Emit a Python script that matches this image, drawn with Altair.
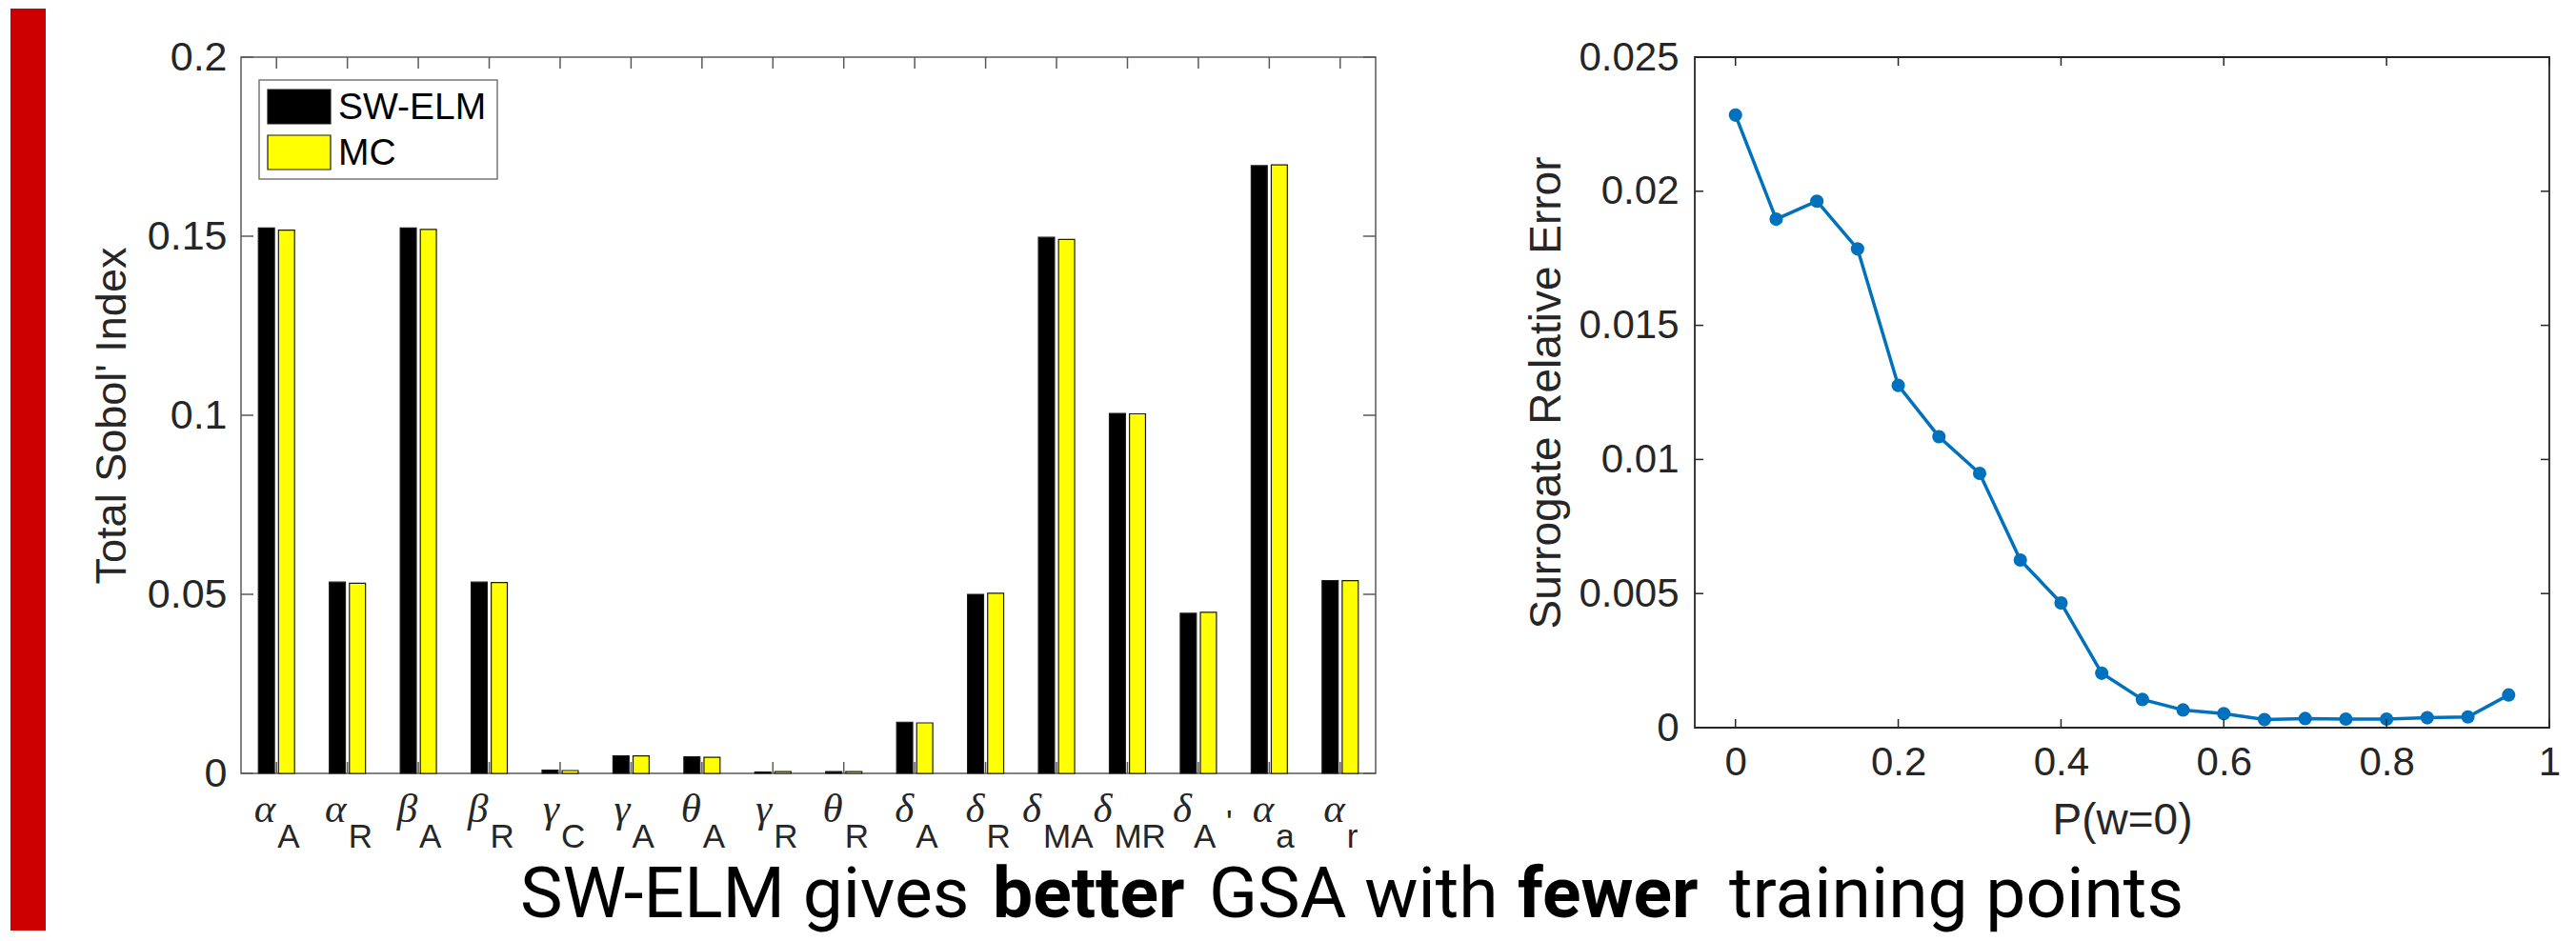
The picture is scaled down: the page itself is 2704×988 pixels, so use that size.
import altair as alt
import pandas as pd

# ---------------- data ----------------
greek = ["α", "α", "β", "β", "γ", "γ", "θ", "γ", "θ", "δ", "δ", "δ", "δ", "δ", "α", "α"]
subs = ["A", "R", "A", "R", "C", "A", "A", "R", "R", "A", "R", "MA", "MR", "A", "a", "r"]
primes = ["", "", "", "", "", "", "", "", "", "", "", "", "", "'", "", ""]
sw_elm = [0.1523, 0.0534, 0.1523, 0.0534, 0.0009, 0.0049, 0.0046, 0.0004, 0.0005,
          0.0143, 0.0500, 0.1497, 0.1005, 0.0447, 0.1697, 0.0538]
mc = [0.1517, 0.0531, 0.1519, 0.0533, 0.0008, 0.0049, 0.0045, 0.0005, 0.0005,
      0.0141, 0.0503, 0.1491, 0.1004, 0.0450, 0.1699, 0.0538]
series_names = ["SW-ELM", "MC"]
series_colors = ["#000000", "#FFFF00"]
left_yticks = [0, 0.05, 0.1, 0.15, 0.2]

p_w0 = [0.0, 0.05, 0.1, 0.15, 0.2, 0.25, 0.3, 0.35, 0.4, 0.45,
        0.5, 0.55, 0.6, 0.65, 0.7, 0.75, 0.8, 0.85, 0.9, 0.95]
rel_err = [0.02284, 0.01896, 0.01963, 0.01785, 0.01276, 0.01085, 0.00948, 0.00625, 0.00465, 0.00203,
           0.00105, 0.00066, 0.00052, 0.00030, 0.00034, 0.00032, 0.00032, 0.00037, 0.00040, 0.00122]
right_xticks = [0, 0.2, 0.4, 0.6, 0.8, 1.0]
right_yticks = [0, 0.005, 0.01, 0.015, 0.02, 0.025]

title_words = ["SW-ELM gives", "better", "GSA with", "fewer", "training points"]
title_bold = [False, True, False, True, False]

# ---------------- layout constants ----------------
W1, H1 = 1191, 752          # left plot area
W2, H2 = 897, 704           # right plot area
OX, OY = 252, 59            # left plot origin on page
title_x_page = [545, 1041, 1268, 1592, 1814]
TITLE_BASE_PAGE = 962
TXT = "#262626"
SANS = "Liberation Sans"

cats = [f"{g}_{s}{p}" for g, s, p in zip(greek, subs, primes)]
bars_df = pd.DataFrame({
    "cat": cats * 2,
    "series": [series_names[0]] * len(cats) + [series_names[1]] * len(cats),
    "value": sw_elm + mc,
})
labels_df = pd.DataFrame({"cat": cats, "greek": greek, "sub": subs, "prime": primes})
cat_df = pd.DataFrame({"cat": cats})
one = pd.DataFrame({"a": [0]})

xscale = alt.Scale(domain=cats, paddingInner=0.49, paddingOuter=0.245)
yscale = alt.Scale(domain=[0, 0.2], nice=False)

y_axis1 = alt.Axis(
    values=left_yticks, format="~g", title="Total Sobol' Index", ticks=False, domain=False, grid=False,
    labelFont=SANS, labelFontSize=43, labelColor=TXT, labelPadding=15,
    titleFont=SANS, titleFontSize=45, titleFontWeight="normal", titleColor=TXT, titlePadding=14)

# ---------------- left chart ----------------
red_bar = alt.Chart(one).mark_rect(color="#CC0000").encode(
    x=alt.value(10 - OX), x2=alt.value(47 - OX), y=alt.value(8 - OY), y2=alt.value(976 - OY))

bars = alt.Chart(bars_df).mark_bar(stroke="#1a1a1a", strokeWidth=1.2).encode(
    x=alt.X("cat:N", scale=xscale, axis=None),
    xOffset=alt.XOffset("series:N", scale=alt.Scale(domain=series_names, paddingInner=0.2, paddingOuter=0)),
    y=alt.Y("value:Q", scale=yscale, axis=y_axis1),
    color=alt.Color("series:N", scale=alt.Scale(domain=series_names, range=series_colors), legend=None),
)

LC = "#5a5a5a"
xt_bottom = alt.Chart(cat_df).mark_rule(color=LC, strokeWidth=1.5).encode(
    x=alt.X("cat:N", scale=xscale, axis=None), y=alt.value(H1), y2=alt.value(H1 - 12))
xt_top = alt.Chart(cat_df).mark_rule(color=LC, strokeWidth=1.5).encode(
    x=alt.X("cat:N", scale=xscale, axis=None), y=alt.value(0), y2=alt.value(12))
ytick_df = pd.DataFrame({"value": left_yticks})
yt_left = alt.Chart(ytick_df).mark_rule(color=LC, strokeWidth=1.5).encode(
    y=alt.Y("value:Q", scale=yscale, axis=y_axis1), x=alt.value(0), x2=alt.value(13))
yt_right = alt.Chart(ytick_df).mark_rule(color=LC, strokeWidth=1.5).encode(
    y=alt.Y("value:Q", scale=yscale, axis=y_axis1), x=alt.value(W1 - 13), x2=alt.value(W1))

# legend
leg_box = alt.Chart(one).mark_rect(fill="white", stroke="#777777", strokeWidth=1.5).encode(
    x=alt.value(19), x2=alt.value(269), y=alt.value(24), y2=alt.value(128))
leg_sw = alt.Chart(one).mark_rect(fill=series_colors[0], stroke="#1a1a1a", strokeWidth=1.2).encode(
    x=alt.value(28), x2=alt.value(94), y=alt.value(34), y2=alt.value(70))
leg_mc = alt.Chart(one).mark_rect(fill=series_colors[1], stroke="#1a1a1a", strokeWidth=1.2).encode(
    x=alt.value(28), x2=alt.value(94), y=alt.value(82), y2=alt.value(118))
leg_t1 = alt.Chart(pd.DataFrame({"t": [series_names[0]]})).mark_text(
    align="left", baseline="middle", font=SANS, fontSize=39, color="black").encode(
    x=alt.value(102), y=alt.value(53), text="t:N")
leg_t2 = alt.Chart(pd.DataFrame({"t": [series_names[1]]})).mark_text(
    align="left", baseline="middle", font=SANS, fontSize=39, color="black").encode(
    x=alt.value(102), y=alt.value(101), text="t:N")

# tick labels: greek letter + subscript
G_Y, S_Y, P_Y = H1 + 51, H1 + 78, H1 + 63
groups = [
    ("length(datum.sub) == 1 && upper(datum.sub) == datum.sub && datum.prime == ''", -1, 1),
    ("length(datum.sub) == 1 && lower(datum.sub) == datum.sub", 5, 7),
    ("length(datum.sub) == 2", -16, -14),
    ("datum.prime != ''", -7, -5),
]
label_layers = []
for expr, gdx, sdx in groups:
    base = alt.Chart(labels_df).transform_filter(expr)
    label_layers.append(base.mark_text(
        font="Liberation Serif", fontStyle="italic", fontSize=43, align="right",
        baseline="alphabetic", dx=gdx, color=TXT).encode(
        x=alt.X("cat:N", scale=xscale, axis=None), y=alt.value(G_Y), text="greek:N"))
    label_layers.append(base.mark_text(
        font=SANS, fontSize=35, align="left", baseline="alphabetic", dx=sdx, color=TXT).encode(
        x=alt.X("cat:N", scale=xscale, axis=None), y=alt.value(S_Y), text="sub:N"))
label_layers.append(alt.Chart(labels_df).transform_filter("datum.prime != ''").mark_text(
    font=SANS, fontSize=35, align="left", baseline="alphabetic", dx=29, color=TXT).encode(
    x=alt.X("cat:N", scale=xscale, axis=None), y=alt.value(P_Y), text="prime:N"))

# slide title
title_layers = []
for word, bold, xp in zip(title_words, title_bold, title_x_page):
    title_layers.append(alt.Chart(pd.DataFrame({"t": [word]})).mark_text(
        font="Roboto", fontSize=75, fontWeight="bold" if bold else "normal",
        align="left", baseline="alphabetic", color="black").encode(
        x=alt.value(xp - OX), y=alt.value(TITLE_BASE_PAGE - OY), text="t:N"))

left = alt.layer(
    red_bar, bars, xt_bottom, xt_top, yt_left, yt_right,
    leg_box, leg_sw, leg_mc, leg_t1, leg_t2, *label_layers, *title_layers
).properties(width=W1, height=H1, view=alt.ViewBackground(stroke=LC, strokeWidth=1.5, fill="white"))

# ---------------- right chart ----------------
err_df = pd.DataFrame({"p": p_w0, "e": rel_err})
xs2 = alt.Scale(domain=[-0.05, 1], nice=False)
ys2 = alt.Scale(domain=[0, 0.025], nice=False)
RC = "#262626"
BLUE = "#0072BD"

x_axis2 = alt.Axis(values=right_xticks, format="~g", title="P(w=0)", ticks=False, domain=False, grid=False,
                   labelFlush=False, labelFont=SANS, labelFontSize=42, labelColor=TXT, labelPadding=16,
                   titleFont=SANS, titleFontSize=46, titleFontWeight="normal", titleColor=TXT, titlePadding=18)
y_axis2 = alt.Axis(values=right_yticks, format="~g", title="Surrogate Relative Error", ticks=False,
                   domain=False, grid=False, labelFont=SANS, labelFontSize=42, labelColor=TXT, labelPadding=17,
                   titleFont=SANS, titleFontSize=46, titleFontWeight="normal", titleColor=TXT, titlePadding=9)

line = alt.Chart(err_df).mark_line(color=BLUE, strokeWidth=3.5).encode(
    x=alt.X("p:Q", scale=xs2, axis=x_axis2), y=alt.Y("e:Q", scale=ys2, axis=y_axis2))
pts = alt.Chart(err_df).mark_circle(color=BLUE, size=200, opacity=1).encode(
    x=alt.X("p:Q", scale=xs2, axis=x_axis2), y=alt.Y("e:Q", scale=ys2, axis=y_axis2))

xt2 = pd.DataFrame({"p": right_xticks})
yt2 = pd.DataFrame({"e": right_yticks})
r_xb = alt.Chart(xt2).mark_rule(color=RC, strokeWidth=1.5).encode(
    x=alt.X("p:Q", scale=xs2, axis=x_axis2), y=alt.value(H2), y2=alt.value(H2 - 9))
r_xt = alt.Chart(xt2).mark_rule(color=RC, strokeWidth=1.5).encode(
    x=alt.X("p:Q", scale=xs2, axis=x_axis2), y=alt.value(0), y2=alt.value(9))
r_yl = alt.Chart(yt2).mark_rule(color=RC, strokeWidth=1.5).encode(
    y=alt.Y("e:Q", scale=ys2, axis=y_axis2), x=alt.value(0), x2=alt.value(9))
r_yr = alt.Chart(yt2).mark_rule(color=RC, strokeWidth=1.5).encode(
    y=alt.Y("e:Q", scale=ys2, axis=y_axis2), x=alt.value(W2 - 9), x2=alt.value(W2))

right = alt.layer(line, pts, r_xb, r_xt, r_yl, r_yr).properties(
    width=W2, height=H2, view=alt.ViewBackground(stroke=RC, strokeWidth=1.8, fill="white"))

chart = alt.hconcat(left, right, spacing=335, bounds="flush").properties(
    padding={"left": 2, "top": 0, "right": 0, "bottom": 2}
).configure(background="white")

chart.save("out.html", embed_options={"renderer": "svg", "actions": False})
